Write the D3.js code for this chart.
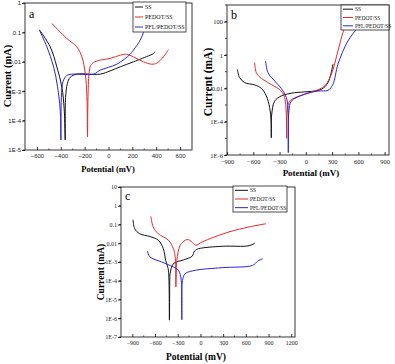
<!DOCTYPE html>
<html>
<head>
<meta charset="utf-8">
<script src="https://cdn.jsdelivr.net/npm/d3@7"></script>
<style>
  html, body { margin: 0; padding: 0; background: #fff; }
  svg { display: block; }
</style>
</head>
<body>
<svg id="chart" width="395" height="364"></svg>
<script>
// ── Data: [potential mV, current mA] ────────────────────────────────────────
const seriesNames = ["SS", "PEDOT/SS", "PFL/PEDOT/SS"];

const ssA = [[-580,0.124],[-488,0.032],[-433,0.0067],[-391,0.0014],[-371,2.3e-4],[-363,2.2e-5],
  [-360,6e-4],[-345,0.0018],[-320,0.003],[-265,0.0038],[-70,0.0038],[14,0.0049],[100,0.0068],
  [209,0.01],[349,0.0168],[377,0.019],[390,0.022]];
const pedotA = [[-474,0.2],[-349,0.062],[-265,0.032],[-223,0.0147],[-195,0.004],[-181,6.5e-4],
  [-176,2.8e-5],[-172,6e-4],[-163,0.004],[-150,0.0075],[-126,0.0095],[-70,0.0114],[14,0.013],
  [98,0.0168],[153,0.018],[209,0.0147],[293,0.01],[363,0.0083],[405,0.009],[460,0.0147],[502,0.026]];
const pflA = [[-580,0.12],[-516,0.032],[-460,0.0067],[-427,0.0014],[-405,2.3e-4],[-399,2.2e-5],
  [-395,6e-4],[-380,0.0022],[-350,0.0034],[-310,0.0038],[-126,0.0038],[-70,0.0052],[70,0.0083],
  [181,0.018],[209,0.025],[265,0.054],[293,0.1],[305,0.14]];

const ssB = [[-782,0.138],[-756,0.044],[-698,0.022],[-584,0.016],[-508,0.01],[-451,0.0035],
  [-413,6.9e-4],[-396,1.1e-4],[-394,1.1e-5],[-390,2.5e-4],[-356,0.0017],[-280,0.0035],
  [-128,0.0055],[25,0.0063],[177,0.0087],[253,0.022],[310,0.28]];
const pedotB = [[-584,0.35],[-565,0.087],[-508,0.04],[-394,0.017],[-280,0.0069],[-242,0.0028],
  [-223,2.8e-4],[-219,1e-5],[-212,4.4e-4],[-185,0.0017],[-52,0.0038],[101,0.0069],[215,0.0138],
  [291,0.069],[367,1.74],[424,22],[462,69],[475,100]];
const pflB = [[-459,0.44],[-432,0.087],[-356,0.0275],[-280,0.01],[-223,0.0028],[-204,6.9e-4],
  [-200,1.4e-6],[-193,4.4e-4],[-166,0.0017],[-14,0.0044],[139,0.0069],[253,0.0076],[310,0.0174],
  [367,0.28],[481,6.9],[595,44],[633,69],[660,100]];

const ssC = [[-891,0.181],[-869,0.06],[-802,0.032],[-669,0.023],[-557,0.0145],[-490,0.0051],
  [-459,0.0012],[-441,7e-4],[-423,3.6e-4],[-410,7.9e-7],[-405,1.2e-4],[-401,2.4e-4],[-357,8.1e-4],
  [-223,0.0013],[-112,0.002],[-76,0.0039],[-23,0.0051],[288,0.0069],[644,0.0074],[720,0.0102]];
const pedotC = [[-656,0.273],[-624,0.074],[-557,0.032],[-423,0.0145],[-357,0.0051],[-334,0.0019],
  [-325,4.7e-5],[-318,5e-4],[-312,0.0012],[-268,0.0078],[-201,0.0145],[-157,0.0155],[-90,0.0095],
  [-59,0.0078],[21,0.0117],[377,0.04],[644,0.074],[866,0.11]];
const pflC = [[-700,0.0039],[-669,0.0019],[-513,0.001],[-357,5.4e-4],[-290,3.6e-4],[-254,1.05e-4],
  [-246,8.3e-7],[-237,1.05e-4],[-201,2.4e-4],[-68,3.6e-4],[288,5e-4],[689,6.6e-4],[755,0.0011],[822,0.0015]];

const xTicksA = [-600,-400,-200,0,200,400,600];
const yTicksA = [1,0.1,0.01,1e-3,1e-4,1e-5];
const xTicksB = [-900,-600,-300,0,300,600,900];
const yTicksB = [100,1,0.01,1e-4,1e-6];
const xTicksC = [-900,-600,-300,0,300,600,900,1200];
const yTicksC = [10,1,0.1,0.01,1e-3,1e-4,1e-5,1e-6,1e-7];

const COLORS = ["#111", "#e8282a", "#2626d8"];
const SERIF = "'Liberation Serif','DejaVu Serif',serif";
const SANS  = "'Liberation Sans',Arial,sans-serif";

function fmtCur(v) {
    if (v >= 0.01) return String(+v.toPrecision(3));
    return "1E" + Math.round(Math.log10(v));
}

const svg = d3.select("#chart");

// ── One panel ────────────────────────────────────────────────────────────────
function drawPanel(p) {
    const x = d3.scaleLinear().domain(p.xDomain).range([p.left, p.right]);
    const y = d3.scaleLog().domain(p.yDomain).range([p.bottom, p.top]);
    const g = svg.append("g");

    // minor y ticks at each decade
    const lo = Math.log10(p.yDomain[0]), hi = Math.log10(p.yDomain[1]);
    const decades = d3.range(lo, hi + 1).map(e => Math.pow(10, e));
    g.selectAll(".ym").data(decades).join("line")
        .attr("x1", p.left - 2).attr("x2", p.left)
        .attr("y1", d => y(d)).attr("y2", d => y(d))
        .attr("stroke", "#000").attr("stroke-width", 0.7);

    const yAx = g.append("g").attr("transform", `translate(${p.left},0)`)
        .call(d3.axisLeft(y).tickValues(p.yTicks).tickFormat(fmtCur).tickSize(3).tickPadding(1));
    yAx.select(".domain").remove();
    yAx.selectAll("line").attr("stroke-width", 0.8);
    yAx.selectAll("text").attr("font-family", p.tickFont).attr("font-size", p.tickSize).attr("fill", "#222");

    // x minor ticks halfway
    const step = p.xTicks[1] - p.xTicks[0];
    const minors = d3.range(p.xTicks[0] - step / 2, p.xDomain[1], step).filter(v => v > p.xDomain[0]);
    g.selectAll(".xm").data(minors).join("line")
        .attr("x1", d => x(d)).attr("x2", d => x(d))
        .attr("y1", p.bottom).attr("y2", p.bottom - 1.5)
        .attr("stroke", "#000").attr("stroke-width", 0.7);

    const xAx = g.append("g").attr("transform", `translate(0,${p.bottom})`)
        .call(d3.axisBottom(x).tickValues(p.xTicks).tickFormat(d3.format("d")).tickSize(-3).tickPadding(4));
    xAx.select(".domain").remove();
    xAx.selectAll("line").attr("stroke-width", 0.8);
    xAx.selectAll("text").attr("font-family", p.tickFont).attr("font-size", p.tickSize).attr("fill", "#222");

    // frame
    g.append("rect").attr("x", p.left).attr("y", p.top)
        .attr("width", p.right - p.left).attr("height", p.bottom - p.top)
        .attr("fill", "none").attr("stroke", "#222").attr("stroke-width", 0.9);

    // curves
    const line = d3.line().x(d => x(d[0])).y(d => y(d[1])).curve(d3.curveCatmullRom.alpha(0.5));
    p.series.forEach((s, i) => {
        g.append("path").datum(s).attr("d", line)
            .attr("fill", "none").attr("stroke", COLORS[i]).attr("stroke-width", 1);
    });

    // legend
    const L = p.legend;
    g.append("rect").attr("x", L.x).attr("y", L.y).attr("width", L.w).attr("height", L.h)
        .attr("fill", "#fff").attr("stroke", "#222").attr("stroke-width", 0.8);
    seriesNames.forEach((name, i) => {
        const ry = L.y + L.h * (i + 0.5) / 3;
        g.append("line").attr("x1", L.x + 2).attr("x2", L.x + 2 + L.sample)
            .attr("y1", ry).attr("y2", ry).attr("stroke", COLORS[i]).attr("stroke-width", 1);
        g.append("text").attr("x", L.x + 4 + L.sample).attr("y", ry + 2)
            .attr("font-family", SERIF).attr("font-size", L.fs).attr("fill", "#111").text(name);
    });

    // panel letter
    g.append("text").attr("x", p.letter[0]).attr("y", p.letter[1])
        .attr("font-family", SERIF).attr("font-size", 12).text(p.name);

    // axis titles
    g.append("text").attr("x", p.xTitle[0]).attr("y", p.xTitle[1]).attr("text-anchor", "middle")
        .attr("font-family", SERIF).attr("font-weight", "bold").attr("font-size", p.xTitleSize)
        .text("Potential (mV)");
    g.append("text").attr("transform", `translate(${p.yTitle[0]},${p.yTitle[1]}) rotate(-90)`)
        .attr("text-anchor", "middle")
        .attr("font-family", SERIF).attr("font-weight", "bold").attr("font-size", p.yTitleSize)
        .text("Current (mA)");
}

drawPanel({
    name: "a", left: 25, right: 192, top: 3, bottom: 150,
    xDomain: [-700, 700], yDomain: [1e-5, 1], xTicks: xTicksA, yTicks: yTicksA,
    series: [ssA, pedotA, pflA], tickFont: SANS, tickSize: 6,
    legend: { x: 133, y: 2, w: 53, h: 30, sample: 8, fs: 6 },
    letter: [29, 18], xTitle: [108, 172], xTitleSize: 8.5, yTitle: [11, 76], yTitleSize: 10.5
});

drawPanel({
    name: "b", left: 227, right: 389, top: 5, bottom: 155,
    xDomain: [-900, 950], yDomain: [1e-6, 1000], xTicks: xTicksB, yTicks: yTicksB,
    series: [ssB, pedotB, pflB], tickFont: SERIF, tickSize: 6.5,
    legend: { x: 341, y: 5, w: 48, h: 25, sample: 10, fs: 5.5 },
    letter: [231, 19], xTitle: [311, 176], xTitleSize: 9, yTitle: [212, 82], yTitleSize: 11.5
});

drawPanel({
    name: "c", left: 121, right: 295, top: 187, bottom: 337,
    xDomain: [-1050, 1250], yDomain: [1e-7, 10], xTicks: xTicksC, yTicks: yTicksC,
    series: [ssC, pedotC, pflC], tickFont: SERIF, tickSize: 6,
    legend: { x: 233, y: 186, w: 54, h: 26, sample: 13, fs: 5.5 },
    letter: [125, 200], xTitle: [196, 360], xTitleSize: 9.5, yTitle: [104, 272], yTitleSize: 9.5
});
</script>
</body>
</html>
